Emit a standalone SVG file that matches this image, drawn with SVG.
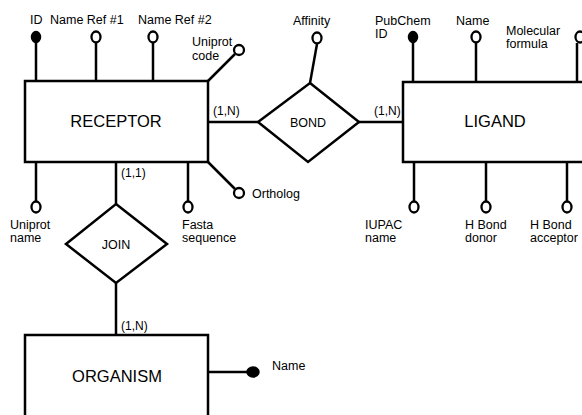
<svg xmlns="http://www.w3.org/2000/svg" width="582" height="415" viewBox="0 0 582 415">
<style>
.ent{fill:#fff;stroke:#000;stroke-width:2.5}
.rel{fill:#fff;stroke:#000;stroke-width:2.5}
.ln{stroke:#000;stroke-width:2.5;fill:none}
.att{fill:#fff;stroke:#000;stroke-width:2.3}
.key{fill:#000;stroke:#000;stroke-width:1.5}
text{font-family:"Liberation Sans",Arial,sans-serif;fill:#000}
.big{font-size:16.5px}
.mid{font-size:12.5px}
.sm{font-size:12.5px}
.card{font-size:12px}
</style>
<rect width="582" height="415" fill="#fff"/>
<g id="connectors">
<line class="ln" x1="208" y1="122" x2="258" y2="122"/>
<line class="ln" x1="359" y1="122" x2="403" y2="122"/>
<line class="ln" x1="116" y1="162" x2="116" y2="204"/>
<line class="ln" x1="116" y1="283" x2="116" y2="335"/>
<text class="card" x="213" y="115">(1,N)</text>
<text class="card" x="374" y="115">(1,N)</text>
<text class="card" x="121" y="177">(1,1)</text>
<text class="card" x="121" y="330">(1,N)</text>
</g>
<g id="receptor">
<rect class="ent" x="25" y="81" width="183" height="81"/>
<text class="big" x="116" y="127" text-anchor="middle">RECEPTOR</text>
</g>
<g id="receptor-attrs">
<line class="ln" x1="36" y1="42" x2="36" y2="81"/><ellipse class="key" cx="36" cy="37" rx="4.5" ry="5.5"/>
<text class="mid" x="30" y="24">ID</text>
<line class="ln" x1="96" y1="43" x2="96" y2="81"/><ellipse class="att" cx="96" cy="37" rx="4.5" ry="5.5"/>
<text class="mid" x="50" y="24">Name Ref #1</text>
<line class="ln" x1="153" y1="43" x2="153" y2="81"/><ellipse class="att" cx="153" cy="37" rx="4.5" ry="5.5"/>
<text class="mid" x="138" y="24">Name Ref #2</text>
<line class="ln" x1="208" y1="81" x2="235" y2="54"/><ellipse class="att" cx="239" cy="50" rx="5" ry="5"/>
<text class="sm" x="192" y="46">Uniprot</text>
<text class="sm" x="192" y="60">code</text>
<line class="ln" x1="36" y1="162" x2="36" y2="201"/><ellipse class="att" cx="36" cy="207" rx="4.5" ry="5.5"/>
<text class="sm" x="10" y="229">Uniprot</text>
<text class="sm" x="10" y="242">name</text>
<line class="ln" x1="188" y1="162" x2="188" y2="201"/><ellipse class="att" cx="188" cy="207" rx="4.5" ry="5.5"/>
<text class="sm" x="182" y="229">Fasta</text>
<text class="sm" x="182" y="242">sequence</text>
<line class="ln" x1="208" y1="162" x2="235" y2="189"/><ellipse class="att" cx="239" cy="193" rx="5" ry="5"/>
<text class="sm" x="252" y="198">Ortholog</text>
</g>
<g id="bond">
<polygon class="rel" points="310,83 359,122 308,162 258,122"/>
<text class="sm" x="308" y="127" text-anchor="middle">BOND</text>
<line class="ln" x1="317" y1="44" x2="310" y2="83"/><ellipse class="att" cx="317" cy="38" rx="4.5" ry="5.5"/>
<text class="mid" x="293" y="25">Affinity</text>
</g>
<g id="ligand">
<rect class="ent" x="403" y="82" width="190" height="80"/>
<text class="big" x="495" y="127" text-anchor="middle">LIGAND</text>
</g>
<g id="ligand-attrs">
<line class="ln" x1="413" y1="42" x2="413" y2="82"/><ellipse class="key" cx="413" cy="37" rx="4.5" ry="5.5"/>
<text class="mid" x="375" y="25">PubChem</text>
<text class="mid" x="375" y="38">ID</text>
<line class="ln" x1="476" y1="43" x2="476" y2="82"/><ellipse class="att" cx="476" cy="37" rx="4.5" ry="5.5"/>
<text class="mid" x="456" y="25">Name</text>
<line class="ln" x1="577" y1="43" x2="577" y2="82"/><ellipse class="att" cx="580" cy="37" rx="4.5" ry="5.5"/>
<text class="sm" x="506" y="35">Molecular</text>
<text class="sm" x="506" y="48">formula</text>
<line class="ln" x1="414" y1="162" x2="414" y2="201"/><ellipse class="att" cx="414" cy="207" rx="4.5" ry="5.5"/>
<text class="sm" x="365" y="229">IUPAC</text>
<text class="sm" x="365" y="242">name</text>
<line class="ln" x1="486" y1="162" x2="486" y2="201"/><ellipse class="att" cx="486" cy="207" rx="4.5" ry="5.5"/>
<text class="sm" x="465" y="229">H Bond</text>
<text class="sm" x="465" y="242">donor</text>
<line class="ln" x1="567" y1="162" x2="567" y2="201"/><ellipse class="att" cx="567" cy="207" rx="4.5" ry="5.5"/>
<text class="sm" x="530" y="229">H Bond</text>
<text class="sm" x="530" y="242">acceptor</text>
</g>
<g id="join">
<polygon class="rel" points="116,204 167,244 116,283 66,244"/>
<text class="sm" x="116" y="249" text-anchor="middle">JOIN</text>
</g>
<g id="organism">
<rect class="ent" x="25" y="335" width="183" height="100"/>
<text class="big" x="117" y="382" text-anchor="middle">ORGANISM</text>
<line class="ln" x1="208" y1="372" x2="250" y2="372"/><ellipse class="key" cx="253" cy="372" rx="6" ry="5"/>
<text class="sm" x="272" y="370">Name</text>
</g>
</svg>
